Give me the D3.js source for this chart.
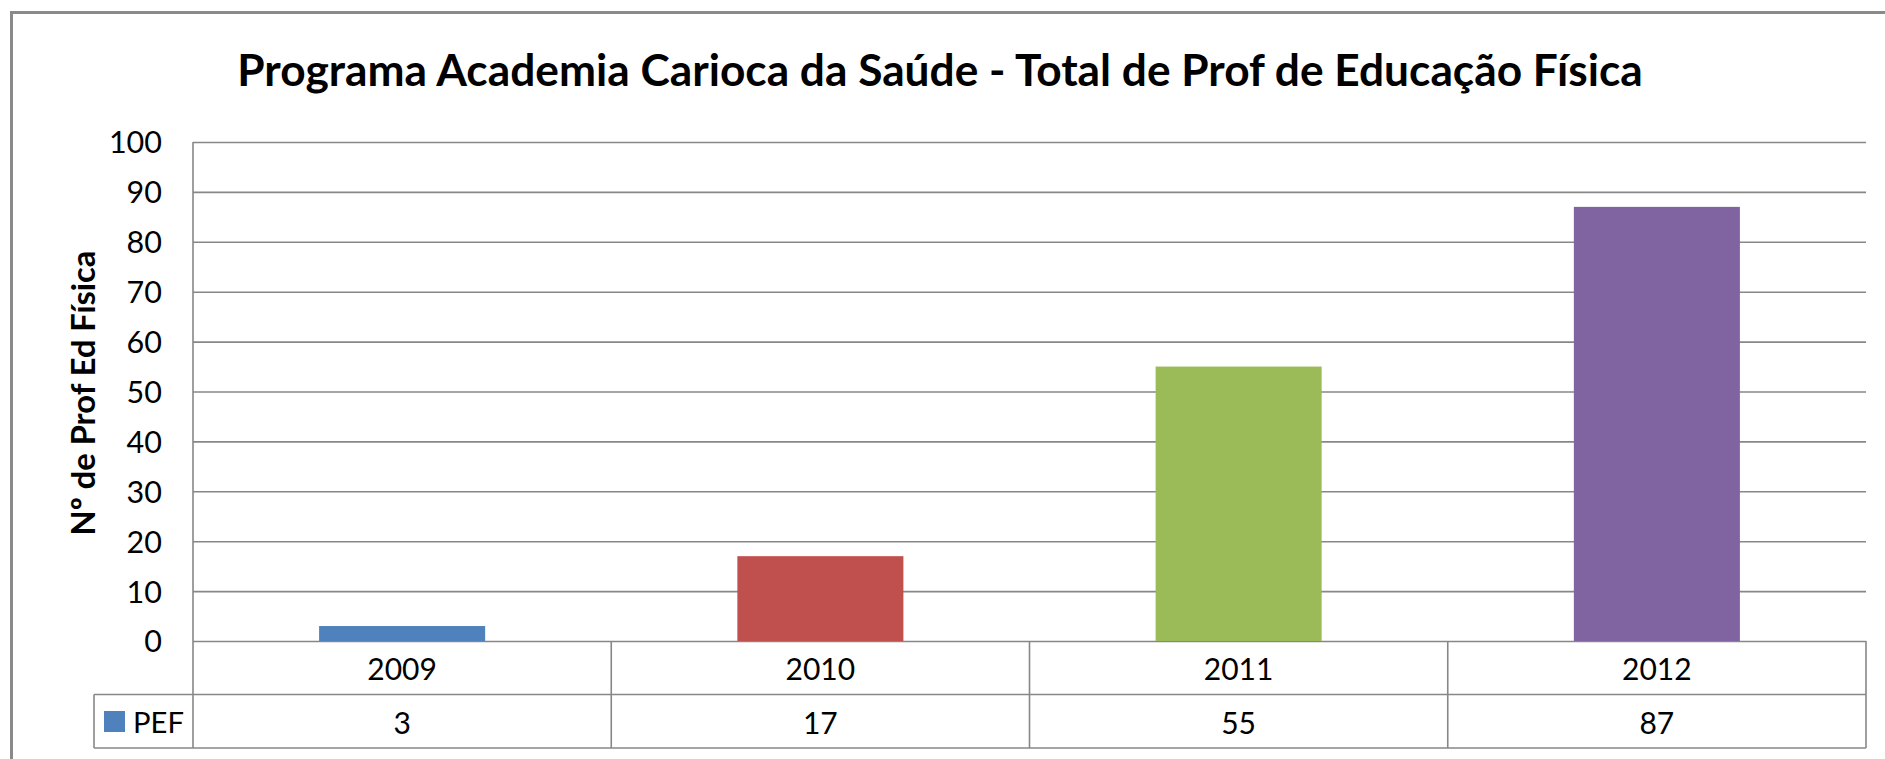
<!DOCTYPE html>
<html>
<head>
<meta charset="utf-8">
<script src="https://cdn.jsdelivr.net/npm/d3@7"></script>
<style>
  html, body { margin: 0; padding: 0; background: #fff; }
  svg { display: block; }
  text { font-family: Lato, "Open Sans", sans-serif; fill: #000; }
</style>
</head>
<body>
<svg id="chart" width="1885" height="759"></svg>
<script>
const title = "Programa Academia Carioca da Saúde - Total de Prof de Educação Física";
const yTitle = "Nº de Prof Ed Física";
const categories = ["2009", "2010", "2011", "2012"];
const seriesName = "PEF";
const values = [3, 17, 55, 87];
const barColors = ["#4F81BD", "#C0504D", "#9BBB59", "#8064A2"];
const yTicks = [0, 10, 20, 30, 40, 50, 60, 70, 80, 90, 100];

const svg = d3.select("#chart");
const W = 1885, H = 759;
const plot = { left: 193, right: 1866, top: 142, bottom: 641 };
const table = { legendLeft: 94, rowH: 53.5 };
const grid = "#878787";

svg.append("rect").attr("width", W).attr("height", H).attr("fill", "#fff");
// outer chart border (extends past the visible picture at right and bottom)
svg.append("rect").attr("x", 11.5).attr("y", 12.5).attr("width", 1900).attr("height", 800)
  .attr("fill", "none").attr("stroke", "#8a8a8a").attr("stroke-width", 3);

const x = d3.scaleBand().domain(categories).range([plot.left, plot.right]).padding(0);
const y = d3.scaleLinear().domain([0, 100]).range([plot.bottom, plot.top]);
const barW = x.bandwidth() * 0.397;

function fit(sel, target) {
  const w = sel.node().getComputedTextLength();
  const fs = parseFloat(sel.attr("font-size"));
  sel.attr("font-size", fs * target / w);
}

// title
const t = svg.append("text").attr("x", 940).attr("y", 86).attr("text-anchor", "middle")
  .attr("font-weight", "bold").attr("font-size", 40).text(title);
fit(t, 1406);

// gridlines
const yAxis = d3.axisLeft(y).tickValues(yTicks).tickSize(-(plot.right - plot.left)).tickPadding(31)
  .tickFormat(d3.format("d"));
const gy = svg.append("g").attr("transform", `translate(${plot.left},0)`).call(yAxis);
gy.select(".domain").remove();
gy.selectAll(".tick line").attr("stroke", grid).attr("stroke-width", 1.6);
gy.selectAll(".tick text").attr("font-family", "Lato, sans-serif").attr("font-size", 30.5)
  .attr("fill", "#000").attr("dy", "0.36em");

// y axis title
const yt = svg.append("text").attr("transform", "translate(95,393) rotate(-90)")
  .attr("text-anchor", "middle").attr("font-weight", "bold").attr("font-size", 28).text(yTitle);
fit(yt, 285);

// bars
svg.append("g").selectAll("rect").data(values).join("rect")
  .attr("x", (d, i) => x(categories[i]) + (x.bandwidth() - barW) / 2)
  .attr("y", d => y(d))
  .attr("width", barW)
  .attr("height", d => y(0) - y(d))
  .attr("fill", (d, i) => barColors[i]);

// data table
const row1Top = plot.bottom, row1Bot = plot.bottom + table.rowH, row2Bot = row1Bot + table.rowH;
const tg = svg.append("g").attr("stroke", grid).attr("stroke-width", 1.6).attr("fill", "none");
tg.append("line").attr("x1", plot.left).attr("x2", plot.left).attr("y1", plot.top).attr("y2", row2Bot);
const bounds = categories.map(c => x(c) + x.bandwidth());
tg.selectAll("line.vb").data(bounds).join("line").attr("class", "vb")
  .attr("x1", d => d).attr("x2", d => d).attr("y1", row1Top).attr("y2", row2Bot);
tg.append("line").attr("x1", table.legendLeft).attr("x2", plot.right).attr("y1", row1Bot).attr("y2", row1Bot);
tg.append("line").attr("x1", table.legendLeft).attr("x2", plot.right).attr("y1", row2Bot).attr("y2", row2Bot);
tg.append("line").attr("x1", table.legendLeft).attr("x2", table.legendLeft).attr("y1", row1Bot).attr("y2", row2Bot);

// category labels
svg.append("g").selectAll("text").data(categories).join("text")
  .attr("x", d => x(d) + x.bandwidth() / 2).attr("y", (row1Top + row1Bot) / 2 + 1)
  .attr("dy", "0.36em").attr("text-anchor", "middle").attr("font-size", 30).text(d => d);
// values
svg.append("g").selectAll("text").data(values).join("text")
  .attr("x", (d, i) => x(categories[i]) + x.bandwidth() / 2).attr("y", (row1Bot + row2Bot) / 2 + 2)
  .attr("dy", "0.36em").attr("text-anchor", "middle").attr("font-size", 30).text(d => d);

// legend key
svg.append("rect").attr("x", 104).attr("y", 711).attr("width", 21).attr("height", 21).attr("fill", barColors[0]);
const lt = svg.append("text").attr("x", 133).attr("y", (row1Bot + row2Bot) / 2 + 1).attr("dy", "0.36em")
  .attr("font-size", 30).text(seriesName);
fit(lt, 51);
</script>
</body>
</html>
